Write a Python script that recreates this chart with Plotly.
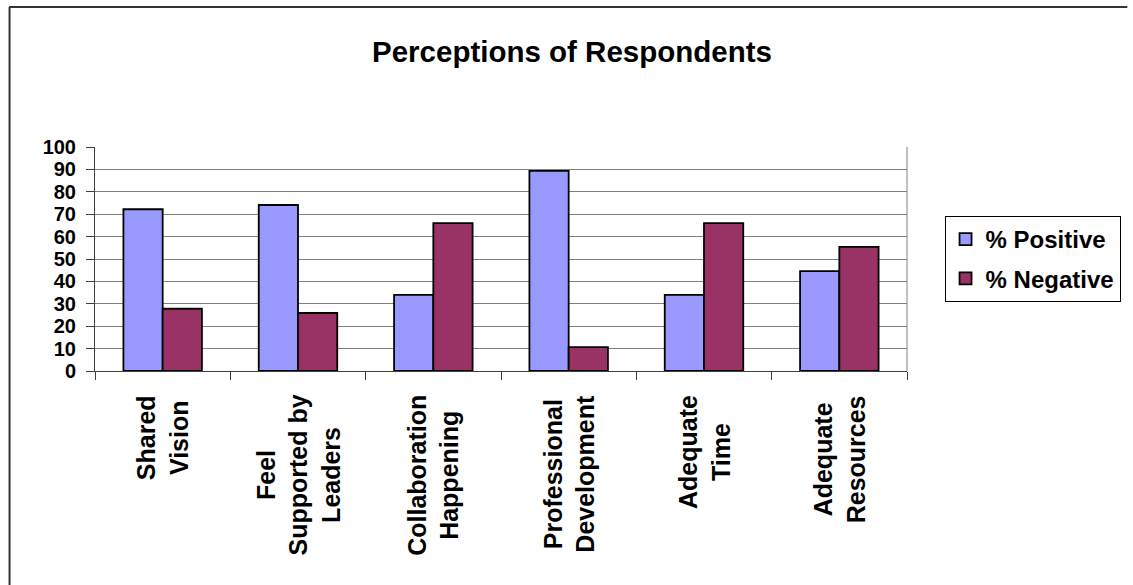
import plotly.graph_objects as go

# ---- data ----
categories = ["Shared Vision", "Feel Supported by Leaders", "Collaboration Happening",
              "Professional Development", "Adequate Time", "Adequate Resources"]
tick_labels = ["Shared<br>Vision", "Feel<br>Supported by<br>Leaders", "Collaboration<br>Happening",
               "Professional<br>Development", "Adequate<br>Time", "Adequate<br>Resources"]
positive = [72.2, 74.1, 34.0, 89.3, 34.0, 44.6]
negative = [27.8, 25.9, 66.0, 10.7, 66.0, 55.4]
series_names = ["% Positive", "% Negative"]
y_ticks = list(range(0, 101, 10))

FONT = "Liberation Sans, Arial, sans-serif"

# plot area in pixels
W, H = 1133, 585
L, R, T, B = 95, 917, 147, 371
pw, ph = R - L, B - T


def px_x(p):
    return (p - L) / pw


def px_y(p):
    return (B - p) / ph


fig = go.Figure()
fig.add_trace(go.Bar(x=categories, y=positive, name=series_names[0], legendgroup="a",
                     marker=dict(color="#9999FF", line=dict(color="#000000", width=1.8))))
fig.add_trace(go.Bar(x=categories, y=negative, name=series_names[1], legendgroup="b",
                     marker=dict(color="#993366", line=dict(color="#000000", width=1.8))))

annotations = []
for c, lab in zip(categories, tick_labels):
    annotations.append(dict(x=c, xref="x", y=px_y(393), yref="paper", text="<b>" + lab + "</b>",
                            textangle=-90, showarrow=False, xanchor="center", yanchor="top",
                            align="center", font=dict(family=FONT, size=25, color="#000000")))

shapes = [
    dict(type="line", xref="paper", yref="paper", x0=px_x(8), x1=px_x(1140), y0=px_y(7), y1=px_y(7),
         line=dict(color="#333333", width=2)),
    dict(type="line", xref="paper", yref="paper", x0=px_x(8.5), x1=px_x(8.5), y0=px_y(7), y1=px_y(600),
         line=dict(color="#333333", width=2)),
]

fig.update_layout(
    width=W, height=H,
    margin=dict(l=L, r=W - R, t=T, b=H - B, pad=0),
    paper_bgcolor="white", plot_bgcolor="white",
    barmode="group", bargap=0.42, bargroupgap=0,
    title=dict(text="<b>Perceptions of Respondents</b>", x=572 / W, xref="container", xanchor="center",
               y=1 - 52 / H, yref="container", yanchor="middle",
               font=dict(family=FONT, size=29.5, color="#000000")),
    showlegend=True,
    legend=dict(x=px_x(955), y=px_y(216), xanchor="left", yanchor="top", xref="paper", yref="paper",
                bordercolor="#000000", borderwidth=1, bgcolor="white", tracegroupgap=5,
                traceorder="grouped",
                font=dict(family=FONT, size=24, color="#000000", weight="bold")),
    xaxis=dict(type="category", showticklabels=False, ticks="outside", tickson="boundaries",
               ticklen=8, tickcolor="#404040", tickwidth=1,
               showline=True, linecolor="#404040", linewidth=1, mirror=False,
               showgrid=False, zeroline=False, fixedrange=True),
    yaxis=dict(range=[0, 100], tickvals=y_ticks, ticktext=[str(v) for v in y_ticks],
               ticks="outside", ticklen=8, tickcolor="#404040", tickwidth=1,
               ticklabelstandoff=6,
               tickfont=dict(family=FONT, size=20, color="#000000", weight="bold"),
               showline=True, linecolor="#404040", linewidth=1,
               showgrid=True, gridcolor="#808080", gridwidth=1, zeroline=False),
    annotations=annotations,
    shapes=shapes,
)

# right border of plot area
fig.add_shape(type="line", xref="paper", yref="paper", x0=1, x1=1, y0=0, y1=1,
              line=dict(color="#808080", width=1))

fig.write_html("out.html")
